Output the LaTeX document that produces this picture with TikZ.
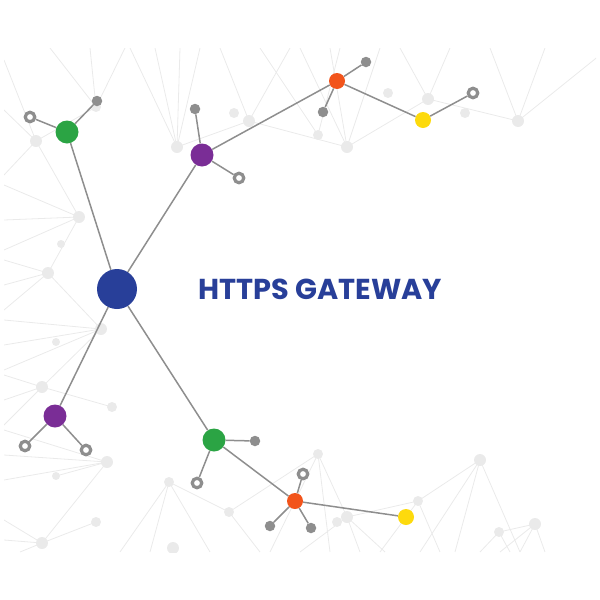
\documentclass[tikz,border=0pt]{standalone}
\usepackage{fontspec}
\newfontfamily\titlefont{Poppins}
\usetikzlibrary{positioning}
\definecolor{hubblue}{HTML}{283F99}
\definecolor{leafgreen}{HTML}{2BA444}
\definecolor{leafpurple}{HTML}{7A2D96}
\definecolor{leaforange}{HTML}{F2541B}
\definecolor{leafyellow}{HTML}{FDDA0D}
\definecolor{linkgray}{HTML}{8E8E8E}
\definecolor{bggray}{HTML}{EAEAEA}
\tikzset{
  hub/.style={circle, fill=hubblue, inner sep=0pt, minimum size=40pt},
  bignode/.style={circle, inner sep=0pt, minimum size=23pt},
  smallnode/.style={circle, inner sep=0pt, minimum size=16pt},
  tip/.style={circle, fill=linkgray, inner sep=0pt, minimum size=10.5pt},
  ring/.style={circle, draw=linkgray, line width=3.2pt, fill=white, inner sep=0pt, minimum size=9.5pt},
  link/.style={draw=linkgray, line width=1.5pt},
  bgline/.style={draw=bggray, line width=0.8pt},
  title/.style={text=hubblue, font=\titlefont\bfseries\fontsize{28.8}{32}\selectfont}
}

\begin{document}
\begin{tikzpicture}[x=1pt, y=-1pt]
            \useasboundingbox (0,0) rectangle (600,600);
            \begin{scope}
                \clip (4,48) rectangle (596,552);
                \foreach \a/\b in {{177,147}/{155,48}, {177,147}/{130,48}, {177,147}/{180,48}, {177,147}/{200,48}, {177,147}/{249,121},
                    {249,121}/{220,48}, {249,121}/{290,48}, {249,121}/{347,147}, {96,107}/{50,48}, {96,107}/{90,48}, {96,107}/{125,48}, {96,107}/{36,141},
                    {347,147}/{300,48}, {347,147}/{330,48}, {347,147}/{380,48}, {347,147}/{428,99}, {318,135}/{260,48}, {318,135}/{340,48},
                    {428,99}/{400,48}, {428,99}/{450,48}, {428,99}/{518,121}, {518,121}/{490,48}, {518,121}/{545,48}, {518,121}/{600,55},
                    {36,141}/{4,60}, {36,141}/{4,110}, {36,141}/{4,175}, {36,141}/{79,217},
                    {79,217}/{4,185}, {79,217}/{4,220}, {79,217}/{4,250}, {79,217}/{48,273},
                    {48,273}/{4,260}, {48,273}/{4,285}, {48,273}/{4,310}, {48,273}/{101,329},
                    {101,329}/{4,320}, {101,329}/{4,345}, {101,329}/{4,370}, {101,329}/{42,387},
                    {42,387}/{4,375}, {42,387}/{4,400}, {42,387}/{4,425}, {42,387}/{112,407},
                    {107,462}/{4,430}, {107,462}/{4,455}, {107,462}/{4,480}, {107,462}/{42,543}, {107,462}/{56,476},
                    {42,543}/{4,520}, {42,543}/{4,540}, {42,543}/{20,552}, {42,543}/{96,522},
                    {169,482}/{120,552}, {169,482}/{150,552}, {169,482}/{210,552}, {169,482}/{229,512},
                    {229,512}/{260,552}, {229,512}/{318,454}, {318,454}/{270,552}, {318,454}/{330,552}, {318,454}/{347,517},
                    {347,517}/{300,552}, {347,517}/{360,552}, {347,517}/{385,552}, {347,517}/{418,501},
                    {418,501}/{380,552}, {418,501}/{440,552}, {418,501}/{480,460},
                    {480,460}/{420,552}, {480,460}/{455,552}, {480,460}/{520,552},
                    {535,524}/{500,552}, {535,524}/{520,552}, {535,524}/{545,552}, {535,524}/{499,532},
                    {499,532}/{480,552}, {499,532}/{510,552}}
                    \draw[bgline] (\a) -- (\b);
                \foreach \x/\y/\r in {36/141/6, 96/107/5, 177/147/6, 249/121/6, 234/113/5, 318/135/5, 347/147/6, 388/93/5, 428/99/6, 465/113/5, 518/121/6,
                    79/217/6, 61/244/4, 48/273/6, 101/329/6, 56/342/4, 42/387/6, 112/407/5, 107/462/6, 56/476/4, 96/522/5, 42/543/6,
                    169/482/5, 173/548/6, 229/512/5, 318/454/5, 337/522/5, 347/517/6, 418/501/5, 480/460/6, 499/532/5, 535/524/6}
                    \fill[bggray] (\x,\y) circle[radius=\r];
            \end{scope}
            \node[hub] (core) at (117,289) {};
            \node[bignode, fill=leafgreen] (gnorth) at (67,132) {};
            \node[bignode, fill=leafpurple] (pnorth) at (202,155) {};
            \node[smallnode, fill=leaforange] (onorth) at (337,81) {};
            \node[smallnode, fill=leafyellow] (ynorth) at (423,120) {};
            \node[bignode, fill=leafpurple] (psouth) at (55,416) {};
            \node[bignode, fill=leafgreen] (gsouth) at (214,440) {};
            \node[smallnode, fill=leaforange] (osouth) at (295,501) {};
            \node[smallnode, fill=leafyellow] (ysouth) at (406,517) {};
            \node[tip] (t1) at (97,101) {};
            \node[ring] (r1) at (30,117) {};
            \node[tip] (t2) at (195,109) {};
            \node[ring] (r2) at (239,178) {};
            \node[tip] (t3) at (366,62) {};
            \node[tip] (t4) at (323,112) {};
            \node[ring] (r3) at (473,93) {};
            \node[ring] (r4) at (25,446) {};
            \node[ring] (r5) at (86,450) {};
            \node[tip] (t5) at (255,441) {};
            \node[ring] (r6) at (197,483) {};
            \node[ring] (r7) at (303,474) {};
            \node[tip] (t6) at (270,526) {};
            \node[tip] (t7) at (311,528) {};
            \foreach \u/\v in {core/gnorth, core/pnorth, core/psouth, core/gsouth, pnorth/onorth, onorth/ynorth, ynorth/r3,
                gsouth/osouth, osouth/ysouth, gnorth/t1, gnorth/r1, pnorth/t2, pnorth/r2, onorth/t3, onorth/t4,
                psouth/r4, psouth/r5, gsouth/t5, gsouth/r6, osouth/r7, osouth/t6, osouth/t7}
                \draw[link] (\u) -- (\v);
            \node[title] (label) at (320.5,289) {HTTPS GATEWAY};
        \end{tikzpicture}
\end{document}
